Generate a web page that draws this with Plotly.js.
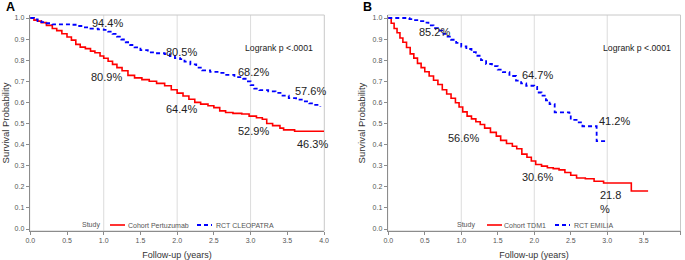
<!DOCTYPE html>
<html>
<head>
<meta charset="utf-8">
<script src="https://cdn.plot.ly/plotly-3.0.1.min.js"></script>
<style>html,body{margin:0;padding:0;background:#fff;}#chart{width:685px;height:260px;}</style>
</head>
<body>
<div id="chart"></div>
<script>
// ---- Panel A data ----
const cohortPertTime = [0, 0.05, 0.10, 0.15, 0.22, 0.30, 0.36, 0.43, 0.50, 0.56, 0.62, 0.68, 0.75, 0.82, 0.88, 0.95, 1.00, 1.06, 1.12, 1.18, 1.25, 1.33, 1.42, 1.52, 1.62, 1.72, 1.83, 1.92, 2.00, 2.08, 2.16, 2.24, 2.32, 2.42, 2.50, 2.58, 2.66, 2.76, 2.88, 2.98, 3.08, 3.16, 3.22, 3.30, 3.40, 3.45, 3.60, 4.00];
const cohortPertSurv = [1.0, 0.99, 0.985, 0.978, 0.965, 0.95, 0.94, 0.925, 0.91, 0.895, 0.875, 0.862, 0.855, 0.843, 0.835, 0.82, 0.809, 0.795, 0.78, 0.765, 0.75, 0.728, 0.716, 0.708, 0.70, 0.69, 0.679, 0.66, 0.644, 0.63, 0.615, 0.60, 0.592, 0.584, 0.575, 0.56, 0.552, 0.548, 0.545, 0.535, 0.527, 0.52, 0.50, 0.49, 0.478, 0.47, 0.463, 0.463];
const cleopatraTime = [0, 0.05, 0.10, 0.15, 0.22, 0.30, 0.45, 0.56, 0.64, 0.72, 0.82, 0.92, 1.00, 1.06, 1.12, 1.18, 1.24, 1.30, 1.36, 1.42, 1.50, 1.60, 1.70, 1.83, 1.90, 1.97, 2.04, 2.10, 2.18, 2.26, 2.34, 2.45, 2.55, 2.65, 2.78, 2.90, 2.95, 3.00, 3.05, 3.12, 3.24, 3.34, 3.42, 3.52, 3.62, 3.72, 3.80, 3.88, 3.95];
const cleopatraSurv = [1.0, 0.993, 0.985, 0.98, 0.975, 0.97, 0.97, 0.968, 0.962, 0.956, 0.95, 0.946, 0.944, 0.935, 0.925, 0.912, 0.898, 0.885, 0.872, 0.861, 0.848, 0.837, 0.833, 0.829, 0.82, 0.81, 0.805, 0.793, 0.78, 0.765, 0.752, 0.745, 0.74, 0.73, 0.72, 0.712, 0.70, 0.682, 0.665, 0.658, 0.652, 0.645, 0.632, 0.62, 0.613, 0.605, 0.595, 0.588, 0.58];

// ---- Panel B data ----
const cohortTdm1Time = [0, 0.04, 0.08, 0.12, 0.16, 0.20, 0.25, 0.30, 0.35, 0.40, 0.45, 0.50, 0.56, 0.62, 0.68, 0.74, 0.80, 0.86, 0.92, 0.97, 1.02, 1.08, 1.14, 1.20, 1.26, 1.32, 1.40, 1.48, 1.54, 1.62, 1.70, 1.76, 1.83, 1.90, 1.96, 2.02, 2.10, 2.18, 2.26, 2.34, 2.42, 2.50, 2.58, 2.70, 2.82, 2.95, 3.33, 3.56];
const cohortTdm1Surv = [1.0, 0.975, 0.95, 0.93, 0.905, 0.885, 0.86, 0.83, 0.81, 0.785, 0.765, 0.745, 0.725, 0.705, 0.685, 0.66, 0.64, 0.62, 0.598, 0.578, 0.555, 0.535, 0.522, 0.508, 0.495, 0.478, 0.458, 0.44, 0.42, 0.405, 0.392, 0.38, 0.355, 0.34, 0.322, 0.306, 0.298, 0.29, 0.286, 0.28, 0.268, 0.255, 0.242, 0.238, 0.226, 0.218, 0.18, 0.18];
const emiliaTime = [0, 0.29, 0.35, 0.42, 0.48, 0.55, 0.62, 0.68, 0.74, 0.80, 0.86, 0.93, 1.00, 1.07, 1.14, 1.20, 1.27, 1.34, 1.42, 1.50, 1.57, 1.66, 1.75, 1.82, 1.89, 2.00, 2.04, 2.10, 2.16, 2.21, 2.28, 2.48, 2.50, 2.58, 2.66, 2.855, 3.00];
const emiliaSurv = [1.0, 0.995, 0.99, 0.985, 0.978, 0.965, 0.952, 0.94, 0.925, 0.912, 0.897, 0.882, 0.865, 0.853, 0.838, 0.821, 0.80, 0.782, 0.772, 0.755, 0.743, 0.725, 0.703, 0.69, 0.679, 0.674, 0.647, 0.632, 0.61, 0.592, 0.553, 0.55, 0.517, 0.505, 0.487, 0.416, 0.412];

// ---- Labels ----
const panelLabels = ['A', 'B'];
const seriesNamesA = ['Cohort Pertuzumab', 'RCT CLEOPATRA'];
const seriesNamesB = ['Cohort TDM1', 'RCT EMILIA'];
const legendTitle = 'Study';
const pValueText = 'Logrank p <.0001';
const xTitle = 'Follow-up (years)';
const yTitle = 'Survival Probability';
// percentage labels: [x, y, text]
const pctLabelsA = [[1.054, 0.976, '94.4%'], [2.054, 0.841, '80.5%'], [3.034, 0.745, '68.2%'], [3.81, 0.654, '57.6%'],
                    [1.04, 0.72, '80.9%'], [2.054, 0.569, '64.4%'], [3.034, 0.464, '52.9%'], [3.85, 0.403, '46.3%']];
const pctLabelsB = [[0.636, 0.932, '85.2%'], [2.04, 0.73, '64.7%'], [3.10, 0.51, '41.2%'],
                    [1.03, 0.43, '56.6%'], [2.04, 0.245, '30.6%']];
const pctLabelB21 = [2.877, 0.128, '21.8<br>%'];
const gridX = [1, 2, 3];

const RED = '#ff0000', BLUE = '#0000ff';
const FONT = 'Arial, "Liberation Sans", sans-serif';
const DASH = '4px,3px';

function curve(x, y, name, color, dash, xa, ya) {
  return {x, y, name, type: 'scatter', mode: 'lines', xaxis: xa, yaxis: ya, showlegend: false,
    line: {color, width: dash ? 1.8 : 1.6, dash: dash ? DASH : 'solid', shape: 'hv'}, hoverinfo: 'skip'};
}

const traces = [
  curve(cohortPertTime, cohortPertSurv, seriesNamesA[0], RED, false, 'x', 'y'),
  curve(cleopatraTime, cleopatraSurv, seriesNamesA[1], BLUE, true, 'x', 'y'),
  curve(cohortTdm1Time, cohortTdm1Surv, seriesNamesB[0], RED, false, 'x2', 'y2'),
  curve(emiliaTime, emiliaSurv, seriesNamesB[1], BLUE, true, 'x2', 'y2')
];

function xax(domain, anchor) {
  return {domain, anchor, range: [-0.008, 4.004], tickmode: 'linear', tick0: 0, dtick: 0.5, tickformat: '.1f',
    showgrid: false, zeroline: false, showline: true, linecolor: '#8c8c8c', linewidth: 1,
    ticks: 'outside', ticklen: 3, tickcolor: '#8c8c8c', tickfont: {size: 7, color: '#555', family: FONT},
    title: {text: xTitle, font: {size: 9, color: '#333', family: FONT}, standoff: 9}, automargin: false};
}
function yax(domain, anchor) {
  return {domain, anchor, range: [-0.0095, 1.0142], tickmode: 'linear', tick0: 0, dtick: 0.1, tickformat: '.1f',
    showgrid: false, zeroline: false, showline: true, linecolor: '#8c8c8c', linewidth: 1,
    ticks: 'outside', ticklen: 3, tickcolor: '#8c8c8c', tickfont: {size: 7, color: '#555', family: FONT},
    title: {text: yTitle, font: {size: 9.5, color: '#333', family: FONT}, standoff: 5}, automargin: false};
}

const shapes = [];
[['x', 'y'], ['x2', 'y2']].forEach(([xa, ya]) => {
  gridX.forEach(g => shapes.push({type: 'line', xref: xa, yref: ya + ' domain', x0: g, x1: g, y0: 0, y1: 1,
    line: {color: '#dcdcdc', width: 1}, layer: 'below'}));
  shapes.push({type: 'rect', xref: xa + ' domain', yref: ya + ' domain', x0: 0, x1: 1, y0: 0, y1: 1,
    line: {color: '#c8c8c8', width: 1}, layer: 'below'});
});

const annotations = [];
function pct(arr, xa, ya) {
  arr.forEach(([x, y, t]) => annotations.push({x, y, xref: xa, yref: ya, text: t, showarrow: false,
    font: {size: 11, color: '#222', family: FONT}, xanchor: 'center', yanchor: 'middle'}));
}
pct(pctLabelsA, 'x', 'y');
pct(pctLabelsB, 'x2', 'y2');
annotations.push({x: pctLabelB21[0], y: pctLabelB21[1], xref: 'x2', yref: 'y2', text: pctLabelB21[2], showarrow: false,
  font: {size: 11, color: '#222', family: FONT}, xanchor: 'left', yanchor: 'middle', align: 'left'});
annotations.push({x: 3.39, y: 0.858, xref: 'x', yref: 'y', text: pValueText, showarrow: false,
  font: {size: 8.7, color: '#222', family: FONT}, xanchor: 'center', yanchor: 'middle'});
annotations.push({x: 3.41, y: 0.858, xref: 'x2', yref: 'y2', text: pValueText, showarrow: false,
  font: {size: 8.7, color: '#222', family: FONT}, xanchor: 'center', yanchor: 'middle'});
annotations.push({x: 10.5 / 685, y: 1.035, xref: 'paper', yref: 'paper', text: '<b>' + panelLabels[0] + '</b>', showarrow: false,
  font: {size: 12.5, color: '#000', family: FONT}, xanchor: 'center', yanchor: 'middle'});
annotations.push({x: 367.5 / 685, y: 1.035, xref: 'paper', yref: 'paper', text: '<b>' + panelLabels[1] + '</b>', showarrow: false,
  font: {size: 12.5, color: '#000', family: FONT}, xanchor: 'center', yanchor: 'middle'});

// ---- Legend keys (layout positions in px) ----
const W = 685, LEGY = (231 - 225) / 216;
function legendBlock(studyCx, redX0, redText, blueX0, blueText, names) {
  const f = {size: 7, color: '#555', family: FONT};
  annotations.push({x: studyCx / W, y: LEGY, xref: 'paper', yref: 'paper', text: legendTitle, showarrow: false,
    font: f, xanchor: 'center', yanchor: 'middle'});
  shapes.push({type: 'line', xref: 'paper', yref: 'paper', x0: redX0 / W, x1: (redX0 + 15) / W, y0: LEGY, y1: LEGY,
    line: {color: RED, width: 1.6}});
  annotations.push({x: redText / W, y: LEGY, xref: 'paper', yref: 'paper', text: names[0], showarrow: false,
    font: f, xanchor: 'left', yanchor: 'middle'});
  shapes.push({type: 'line', xref: 'paper', yref: 'paper', x0: blueX0 / W, x1: (blueX0 + 15) / W, y0: LEGY, y1: LEGY,
    line: {color: BLUE, width: 1.8, dash: DASH}});
  annotations.push({x: blueText / W, y: LEGY, xref: 'paper', yref: 'paper', text: names[1], showarrow: false,
    font: f, xanchor: 'left', yanchor: 'middle'});
}
legendBlock(90.5, 110, 126, 197, 213.5, seriesNamesA);
legendBlock(465.5, 487, 502, 555, 571.5, seriesNamesB);

const layout = {
  width: 685, height: 260, margin: {l: 0, r: 0, t: 15, b: 29},
  paper_bgcolor: '#fff', plot_bgcolor: '#fff', font: {family: FONT},
  showlegend: false,
  xaxis: xax([29.7 / 685, 324.3 / 685], 'y'),
  yaxis: yax([0, 1], 'x'),
  xaxis2: xax([387.7 / 685, 680.5 / 685], 'y2'),
  yaxis2: yax([0, 1], 'x2'),
  shapes, annotations
};

Plotly.newPlot('chart', traces, layout, {displayModeBar: false, staticPlot: true});
</script>
</body>
</html>
